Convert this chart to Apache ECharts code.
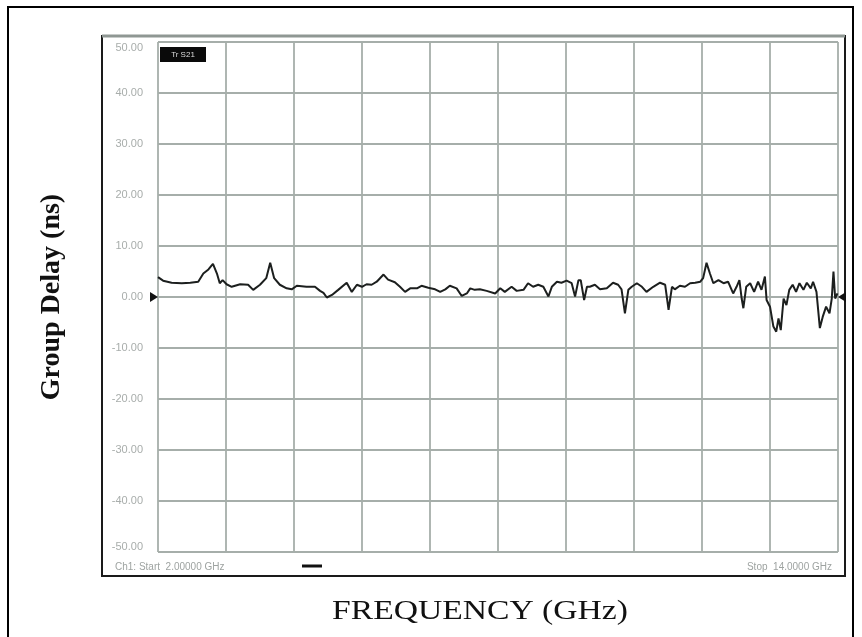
<!DOCTYPE html>
<html>
<head>
<meta charset="utf-8">
<script src="https://cdn.jsdelivr.net/npm/echarts@6/dist/echarts.min.js"></script>
<style>html,body{margin:0;padding:0;background:#fff;}#c{width:862px;height:637px;}</style>
</head>
<body>
<div id="c"></div>
<script>
// Frequency (GHz)
var freq = [2.00,2.09,2.24,2.42,2.57,2.71,2.80,2.89,2.97,3.04,3.09,3.14,3.21,3.30,3.45,3.59,3.68,3.80,3.91,3.98,4.05,4.15,4.27,4.36,4.45,4.62,4.77,4.86,4.92,4.98,5.07,5.18,5.33,5.42,5.51,5.60,5.68,5.77,5.86,5.98,6.06,6.18,6.27,6.36,6.45,6.57,6.65,6.77,6.89,6.98,7.07,7.15,7.27,7.36,7.45,7.51,7.59,7.68,7.80,7.95,8.04,8.12,8.24,8.33,8.45,8.53,8.62,8.71,8.80,8.89,8.95,9.04,9.12,9.21,9.30,9.36,9.42,9.46,9.52,9.57,9.62,9.71,9.80,9.92,10.03,10.12,10.18,10.24,10.30,10.36,10.45,10.54,10.62,10.74,10.86,10.95,11.01,11.07,11.12,11.21,11.30,11.39,11.48,11.57,11.62,11.68,11.74,11.80,11.89,11.98,12.06,12.15,12.21,12.26,12.30,12.33,12.38,12.45,12.52,12.59,12.65,12.71,12.74,12.80,12.86,12.91,12.95,12.99,13.04,13.09,13.14,13.20,13.26,13.32,13.39,13.45,13.52,13.56,13.62,13.68,13.73,13.79,13.85,13.89,13.92,13.95,13.99,14.00];
// Group delay (ns)
var delay = [3.9,3.2,2.8,2.7,2.8,3.0,4.6,5.4,6.5,4.6,2.7,3.3,2.5,2.0,2.5,2.4,1.4,2.4,3.7,6.7,3.7,2.4,1.7,1.5,2.2,2.0,2.0,1.2,0.8,-0.1,0.4,1.4,2.8,1.0,2.4,2.0,2.5,2.4,3.0,4.4,3.4,2.9,2.0,1.0,1.7,1.7,2.2,1.8,1.5,1.0,1.5,2.2,1.7,0.2,0.7,1.7,1.4,1.5,1.2,0.7,1.7,1.0,2.0,1.2,1.4,2.7,2.0,2.4,2.0,0.1,2.0,3.0,2.8,3.2,2.7,0.1,3.3,3.3,-0.6,2.0,2.0,2.4,1.5,1.7,2.8,2.4,1.5,-3.2,1.4,2.0,2.7,2.0,1.0,2.0,2.8,2.4,-2.5,2.0,1.5,2.2,2.0,2.7,2.8,3.0,3.7,6.7,4.6,2.7,3.3,2.7,3.0,0.7,2.0,3.3,-0.3,-2.2,2.0,2.7,1.0,3.0,1.4,4.0,-0.6,-1.9,-5.8,-6.8,-4.2,-6.5,-0.3,-1.6,1.4,2.4,1.0,2.7,1.4,2.8,1.7,3.0,1.0,-6.1,-3.9,-1.9,-3.2,-0.3,5.0,-0.3,0.7,0.7];
// Y-axis ticks
var yTicks = [-50,-40,-30,-20,-10,0,10,20,30,40,50];
var xStart = 2, xStop = 14, xStep = 1.2;
var traceLabel = 'Tr S21';
var startText = 'Ch1: Start  2.00000 GHz';
var stopText = 'Stop  14.0000 GHz';
var xTitle = 'FREQUENCY (GHz)';
var yTitle = 'Group Delay (ns)';

var pts = freq.map(function(f,i){return [f, delay[i]];});
var gridColor = '#a6aeaa';
var chart = echarts.init(document.getElementById('c'), null, {renderer:'canvas'});
chart.setOption({
  animation:false,
  backgroundColor:'#ffffff',
  grid:{left:158, top:42, width:680, height:510, containLabel:false},
  xAxis:{
    type:'value', min:xStart, max:xStop, interval:xStep,
    axisLabel:{show:false}, axisTick:{show:false},
    axisLine:{show:false},
    splitLine:{show:true, lineStyle:{color:gridColor, width:1.8}}
  },
  yAxis:{
    type:'value', min:yTicks[0], max:yTicks[yTicks.length-1], interval:10,
    axisTick:{show:false}, axisLine:{show:false},
    splitLine:{show:true, lineStyle:{color:gridColor, width:1.8}},
    axisLabel:{
      formatter:function(v){return v.toFixed(2);},
      color:'#a8adab', fontFamily:'Liberation Sans', fontSize:11, margin:15,
      verticalAlignMinLabel:'bottom', verticalAlignMaxLabel:'top'
    },
    name:yTitle, nameLocation:'middle', nameGap:92,
    nameTextStyle:{fontFamily:'Liberation Serif', fontWeight:'bold', fontSize:28, color:'#111'}
  },
  series:[{
    type:'line', data:pts, showSymbol:false, symbol:'none',
    lineStyle:{color:'#1c1f1e', width:2},
    markPoint:{
      silent:true, label:{show:false},
      data:[
        {coord:[xStart,0], symbol:'triangle', symbolRotate:-90, symbolSize:[10,8], symbolOffset:[-4,0], itemStyle:{color:'#111'}},
        {coord:[xStop,0], symbol:'triangle', symbolRotate:90, symbolSize:[10,8], symbolOffset:[4,0], itemStyle:{color:'#111'}}
      ]
    }
  }],
  graphic:[
    {type:'rect', shape:{x:8,y:7,width:845,height:640}, style:{fill:'none', stroke:'#000', lineWidth:2}, silent:true},
    {type:'rect', shape:{x:102,y:36,width:743,height:540}, style:{fill:'none', stroke:'#1a1a1a', lineWidth:2}, silent:true},
    {type:'line', shape:{x1:102,y1:36,x2:845,y2:36}, style:{stroke:'#8f9793', lineWidth:3}, silent:true},
    {type:'rect', shape:{x:160,y:47,width:46,height:15}, style:{fill:'#0a0a0a'}, silent:true},
    {type:'text', x:183, y:55, style:{text:traceLabel, fill:'#ddd', font:'8px Liberation Sans', align:'center', verticalAlign:'middle'}, silent:true},
    {type:'text', x:115, y:567, style:{text:startText, fill:'#9ea3a1', font:'10px Liberation Sans', verticalAlign:'middle'}, silent:true},
    {type:'line', shape:{x1:302,y1:566,x2:322,y2:566}, style:{stroke:'#111', lineWidth:3}, silent:true},
    {type:'text', x:832, y:567, style:{text:stopText, fill:'#9ea3a1', font:'10px Liberation Sans', align:'right', verticalAlign:'middle'}, silent:true},
    {type:'text', x:480, y:612, scaleX:1.2, style:{text:xTitle, fill:'#111', font:'28px Liberation Serif', align:'center', verticalAlign:'middle'}, silent:true}
  ]
});
</script>
</body>
</html>
